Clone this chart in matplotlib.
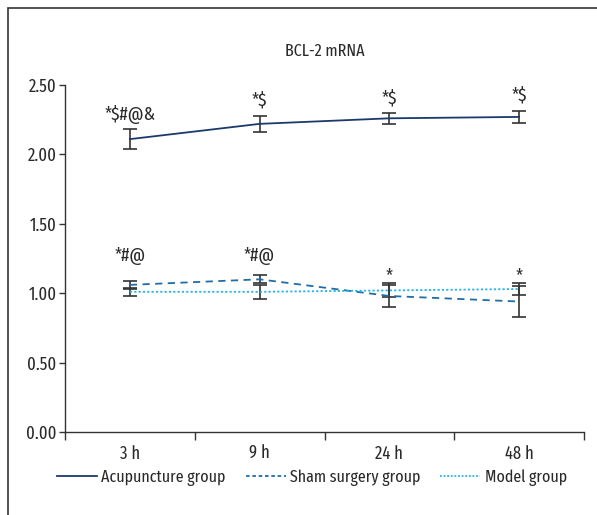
import matplotlib
matplotlib.use("Agg")
import matplotlib.pyplot as plt
from matplotlib import font_manager as fm
from matplotlib.patches import Rectangle
from matplotlib.lines import Line2D

available = {f.name for f in fm.fontManager.ttflist}
preferred = ['Fira Sans Extra Condensed', 'Archivo Narrow', 'PT Sans Narrow', 'Fira Sans Condensed',
             'Roboto Condensed', 'Liberation Sans Narrow']
chosen = [f for f in preferred if f in available][:1]
plt.rcParams['font.family'] = chosen + ['DejaVu Sans']

categories = ["3 h", "9 h", "24 h", "48 h"]
acu_mean = [2.11, 2.22, 2.26, 2.27]
acu_err = [0.07, 0.06, 0.04, 0.045]
sham_mean = [1.06, 1.10, 0.98, 0.94]
sham_err = [0.03, 0.03, 0.08, 0.11]
model_mean = [1.01, 1.01, 1.02, 1.03]
model_err = [0.03, 0.05, 0.05, 0.045]
upper_marks = ["*$#@&", "*$", "*$", "*$"]
lower_marks = ["*#@", "*#@", "*", "*"]
yticks = [0.0, 0.5, 1.0, 1.5, 2.0, 2.5]

# label offsets above error-bar tops (points)
upper_offsets_pt = [6.5, 7.5, 7.0, 7.0]
lower_offsets_pt = [14.0, 10.5, 1.5, 1.5]

W, H = 597, 515
fig = plt.figure(figsize=(W / 100, H / 100), dpi=100)
ax = fig.add_axes([65 / W, 1 - 432 / H, (584 - 65) / W, (432 - 85) / H])

# outer frame
fig.patches.append(Rectangle((8 / W, -0.1), 1.2, 1 - 8 / H + 0.1, transform=fig.transFigure,
                             fill=False, edgecolor='#333333', linewidth=1.2))

x = list(range(1, len(categories) + 1))
acu_c = '#1b3a6b'
sham_c = '#1f6fa6'
model_c = '#22b5ea'
err_c = '#333333'
txt_c = '#2a2a2a'
fs = 13

ax.plot(x, acu_mean, color=acu_c, lw=1.3, ls='-', zorder=3)
ax.plot(x, sham_mean, color=sham_c, lw=1.3, ls=(0, (4, 3)), zorder=3)
ax.plot(x, model_mean, color=model_c, lw=1.3, ls=(0, (1.2, 1.2)), zorder=3)

for m, e in [(acu_mean, acu_err), (sham_mean, sham_err), (model_mean, model_err)]:
    ax.errorbar(x, m, yerr=e, fmt='none', ecolor=err_c, elinewidth=1.2, capsize=5,
                capthick=1.2, zorder=2)

for xi, m, e, t, o in zip(x, acu_mean, acu_err, upper_marks, upper_offsets_pt):
    ax.annotate(t, (xi, m + e), xytext=(0, o), textcoords='offset points',
                ha='center', va='baseline', fontsize=fs + 0.5, color=txt_c)
low_top = [max(s + se, mo + me) for s, se, mo, me in zip(sham_mean, sham_err, model_mean, model_err)]
for xi, top, t, o in zip(x, low_top, lower_marks, lower_offsets_pt):
    ax.annotate(t, (xi, top), xytext=(0, o), textcoords='offset points',
                ha='center', va='baseline', fontsize=fs + 0.5, color=txt_c)

ax.set_xlim(0.5, len(categories) + 0.5)
ax.set_ylim(0, 2.5)
ax.set_yticks(yticks)
ax.set_yticklabels([f"{v:.2f}" for v in yticks], fontsize=fs, color=txt_c)
ax.set_xticks(x)
ax.set_xticklabels(categories, fontsize=fs, color=txt_c)
ax.set_xticks([i + 0.5 for i in range(0, len(categories) + 1)], minor=True)
ax.tick_params(axis='x', which='major', length=0, pad=9)
ax.tick_params(axis='x', which='minor', length=6, width=1, color='#333333', direction='out')
ax.tick_params(axis='y', length=4, width=1, color='#333333', pad=2)

for s in ['top', 'right']:
    ax.spines[s].set_visible(False)
for s in ['left', 'bottom']:
    ax.spines[s].set_color('#333333')
    ax.spines[s].set_linewidth(1.0)
ax.spines['left'].set_bounds(0, 2.5)

ax.set_title('BCL-2 mRNA', fontsize=fs - 0.5, color=txt_c, pad=21)

handles = [Line2D([], [], color=acu_c, lw=1.3, ls='-'),
           Line2D([], [], color=sham_c, lw=1.3, ls=(0, (2, 1.5))),
           Line2D([], [], color=model_c, lw=1.3, ls=(0, (1, 1)))]
fig.legend(handles, ['Acupuncture group', 'Sham surgery group', 'Model group'],
           loc='center', bbox_to_anchor=(312 / W, 1 - 478 / H), ncol=3, frameon=False,
           fontsize=fs - 0.5, handlelength=2.3, handletextpad=0.25, columnspacing=1.15,
           labelcolor=txt_c)

fig.savefig('out.png', dpi=100)
